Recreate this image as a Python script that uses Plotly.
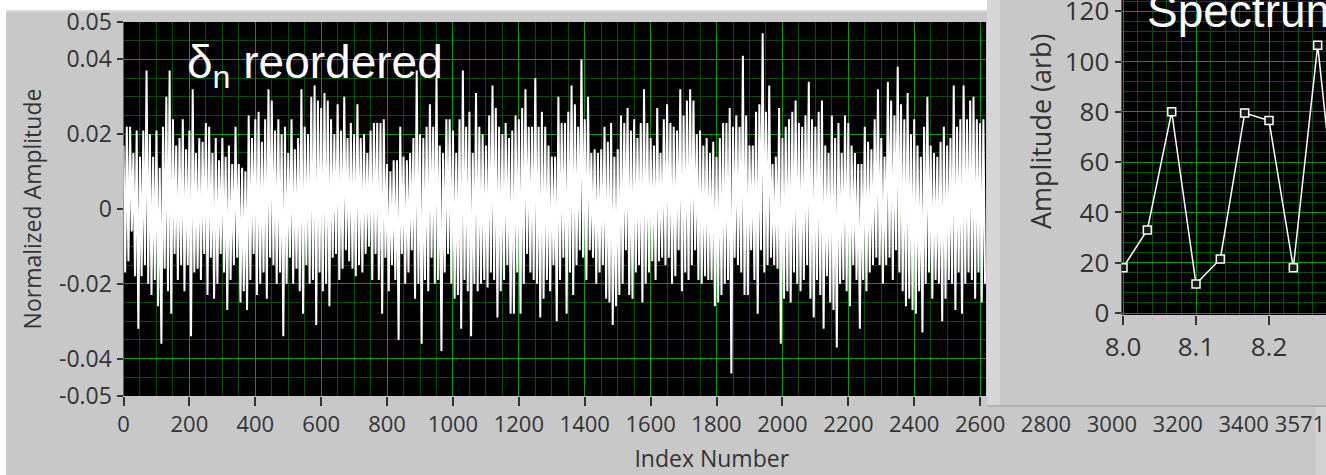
import plotly.graph_objects as go

W, H = 1326, 475

# ---------------- data ----------------
# Main trace: reordered delta_n, read as alternating upper / lower excursions,
# one pair per 10 index units (values in units of 1e-3, normalized amplitude)
index_step = 10
delta_hi_milli = [
    17, 22, 22, 15, 21, 14, 21, 37, 20, 14,
    21, 11, 22, 30, 37, 24, 17, 19, 24, 16,
    21, 32, 15, 19, 18, 23, 22, 15, 19, 13,
    19, 14, 17, 12, 22, 12, 11, 10, 25, 19,
    24, 26, 18, 24, 32, 29, 21, 24, 20, 22,
    15, 24, 16, 19, 32, 22, 20, 30, 33, 29,
    27, 31, 29, 24,
    20, 28, 21, 30, 19, 23, 20, 28, 19, 20,
    15, 21, 23, 23, 23, 24, 12, 10, 13, 13,
    22, 14, 13, 15, 19, 37, 20, 19, 22, 28,
    22, 35, 17, 15, 24, 24, 21, 15, 24, 37,
    22, 26, 15, 31, 22, 20, 17, 25, 33, 27,
    22, 20, 23, 19, 21, 25, 24, 27, 32, 22,
    22, 35, 22, 26, 22,
    17, 14, 14, 30, 23, 23, 26, 33, 28, 22,
    40, 24, 30, 15, 16, 15, 16, 22, 18, 23,
    14, 16, 25, 23, 27, 21, 24, 19, 23, 32,
    23, 19, 17, 27, 15, 24, 28, 23, 22, 21,
    32, 25, 29, 32, 29, 20, 21, 17, 19, 15,
    18, 14, 19, 23, 23, 27, 22, 25, 22, 41,
    25, 17, 17, 26, 28, 47, 26,
    33, 12, 14, 27, 19, 22, 24, 26, 29, 23,
    22, 25, 34, 24, 22, 26, 29, 17, 15, 25,
    19, 23, 15, 25, 23, 17, 15, 12, 12, 22,
    18, 16, 24, 32, 19, 14, 34, 29, 25, 38,
    28, 24, 31, 20, 24, 17, 14, 22, 30, 17,
    15, 14, 18, 22, 17, 19, 33, 22, 24, 33,
    24, 29, 30, 24, 23, 24,
]
delta_lo_milli = [
    -17, -14, -6, -18, -32, -18, -15, -20, -23, -19,
    -26, -36, -16, -22, -28, -12, -19, -15, -22, -15,
    -34, -17, -16, -19, -12, -23, -13, -24, -20, -12,
    -17, -27, -19, -15, -13, -25, -22, -27, -19, -12,
    -23, -20, -17, -24, -13, -15, -20, -17, -34, -20,
    -13, -20, -16, -22, -28, -15, -20, -19, -31, -17,
    -22, -20, -26, -13,
    -12, -19, -16, -11, -14, -16, -18, -15, -17, -12,
    -10, -19, -12, -19, -28, -13, -22, -15, -19, -35,
    -12, -20, -17, -11, -24, -20, -36, -19, -22, -13,
    -20, -19, -38, -17, -12, -20, -24, -23, -32, -19,
    -22, -34, -20, -22, -20, -19, -21, -17, -19, -29,
    -22, -19, -15, -28, -28, -17, -28, -20, -12, -17,
    -19, -20, -29, -24, -19,
    -22, -15, -30, -19, -13, -28, -17, -23, -15, -11,
    -13, -19, -11, -13, -20, -17, -15, -24, -25, -31,
    -26, -23, -20, -11, -23, -24, -17, -15, -25, -20,
    -17, -14, -19, -14, -13, -15, -13, -20, -18, -11,
    -22, -17, -19, -15, -11, -19, -20, -18, -19, -19,
    -26, -25, -23, -20, -19, -44, -13, -15, -17, -23,
    -23, -11, -19, -28, -11, -17, -15,
    -13, -15, -16, -36, -24, -22, -25, -17, -20, -22,
    -19, -15, -24, -29, -19, -23, -32, -18, -25, -27,
    -37, -20, -19, -22, -26, -15, -19, -32, -19, -22,
    -17, -15, -13, -15, -20, -15, -13, -19, -11, -17,
    -22, -26, -24, -27, -28, -22, -33, -20, -17, -24,
    -19, -20, -30, -24, -19, -20, -27, -17, -28, -20,
    -17, -19, -24, -17, -25, -20,
]

# Inset: spectrum
spec_freq = [8.0, 8.0333, 8.0667, 8.1, 8.1333, 8.1667, 8.2, 8.2333, 8.2667, 8.3]
spec_amp = [18, 33, 80, 11.5, 21.5, 79.5, 76.5, 18, 106.5, 15]

# Tick labels
main_xticks = [0, 200, 400, 600, 800, 1000, 1200, 1400, 1600, 1800, 2000, 2200, 2400, 2600]
ext_xticks = [2800, 3000, 3200, 3400, 3571]
n_points = 3571
main_yticks = [-0.05, -0.04, -0.02, 0, 0.02, 0.04, 0.05]
main_yticktext = ["-0.05", "-0.04", "-0.02", "0", "0.02", "0.04", "0.05"]
spec_xticks = [8.0, 8.1, 8.2]
spec_xticktext = ["8.0", "8.1", "8.2"]
spec_yticks = [0, 20, 40, 60, 80, 100, 120]

# ---------------- helpers (pixel -> paper) ----------------
def px(x):
    return x / W

def py(y):
    return 1 - y / H

# main geometry
MX0, MX1, AXEND = 123.5, 986.0, 1300.0
MY0, MY1 = 22.0, 396.0
scale = (AXEND - MX0) / n_points
main_xmax = (MX1 - MX0) / scale

# inset geometry
IX0 = 1121.5
IY1 = 315.0
ix_scale = 730.0            # px per unit
iy_scale = (313.0 - 11.2) / 120.0

TXT = "#333333"
MAJOR = "#179217"
MINOR = "#0b4c0b"
TICKFONT = dict(family="Open Sans", size=22, color=TXT)
INSET_TICKFONT = dict(family="Open Sans", size=26, color=TXT)
COMMON = dict(automargin=False, tickangle=0, ticklabeloverflow="allow", showline=False)

# build zig-zag trace
xs, ys = [], []
for i, (h, l) in enumerate(zip(delta_hi_milli, delta_lo_milli)):
    xs += [i * index_step, i * index_step + index_step / 2]
    ys += [h * 1e-3, l * 1e-3]

fig = go.Figure()
fig.add_trace(go.Scatter(x=xs, y=ys, mode="lines", line=dict(color="white", width=2),
                         xaxis="x", yaxis="y", showlegend=False, hoverinfo="skip"))
fig.add_trace(go.Scatter(x=spec_freq, y=spec_amp, mode="lines+markers",
                         line=dict(color="white", width=1.5),
                         marker=dict(symbol="square", size=8, color="#1a1a1a",
                                     line=dict(color="white", width=1.5)),
                         xaxis="x2", yaxis="y2", showlegend=False, hoverinfo="skip"))
# carrier for the full-length index axis
fig.add_trace(go.Scatter(x=[], y=[], xaxis="x3", yaxis="y3", showlegend=False, hoverinfo="skip"))

fig.update_layout(
    template="none",
    width=W, height=H, margin=dict(l=0, r=0, t=0, b=0, pad=0, autoexpand=False),
    paper_bgcolor="#c8c8c8", plot_bgcolor="rgba(0,0,0,0)",
    showlegend=False,
    xaxis=dict(domain=[px(MX0), px(MX1)], range=[0, main_xmax], anchor="y",
               tickmode="array", tickvals=main_xticks, ticks="outside", ticklen=9,
               tickwidth=1.5, tickcolor=TXT, tickfont=TICKFONT,
               showgrid=True, gridcolor=MAJOR, gridwidth=1, zeroline=False,
               minor=dict(tickmode="linear", tick0=0, dtick=50, showgrid=True,
                          gridcolor=MINOR, gridwidth=1, ticks=""), **COMMON),
    yaxis=dict(domain=[py(MY1), py(MY0)], range=[-0.05, 0.05], anchor="x",
               tickmode="array", tickvals=main_yticks, ticktext=main_yticktext,
               ticks="outside", ticklen=6, tickwidth=1.5, tickcolor=TXT,
               tickfont=dict(family="Open Sans", size=23, color=TXT),
               showgrid=True, gridcolor=MAJOR, gridwidth=1, zeroline=True,
               zerolinecolor=MAJOR, zerolinewidth=1,
               title=dict(text="Normalized Amplitude", font=dict(family="Open Sans", size=23, color=TXT),
                          standoff=10),
               minor=dict(tickmode="linear", tick0=0, dtick=0.005, showgrid=True,
                          gridcolor=MINOR, gridwidth=1, ticks=""), **COMMON),
    xaxis3=dict(domain=[px(MX0), px(AXEND)], range=[0, n_points], anchor="free",
                position=py(MY1),
                tickmode="array", tickvals=ext_xticks, ticks="outside", ticklen=9,
                tickwidth=1.5, tickcolor="rgba(0,0,0,0)", tickfont=TICKFONT,
                showgrid=False, zeroline=False,
                title=dict(text="Index Number", font=dict(family="Open Sans", size=23, color=TXT),
                           standoff=13), **COMMON),
    yaxis3=dict(domain=[py(MY1), py(MY0)], range=[0, 1], anchor="x3", visible=False,
                showgrid=False, zeroline=False, automargin=False),
    xaxis2=dict(domain=[px(IX0), 1.0],
                range=[8.0 - (1123 - IX0) / ix_scale, 8.0 + (W - 1123) / ix_scale],
                anchor="y2", tickmode="array", tickvals=spec_xticks, ticktext=spec_xticktext,
                ticks="outside", ticklen=9, tickwidth=1.5, tickcolor=TXT, tickfont=INSET_TICKFONT,
                showgrid=True, gridcolor=MAJOR, gridwidth=1, zeroline=False,
                minor=dict(tickmode="linear", tick0=8.0, dtick=0.02, showgrid=True,
                           gridcolor=MINOR, gridwidth=1, ticks=""), **COMMON),
    yaxis2=dict(domain=[py(IY1), 1.0],
                range=[-(IY1 - 313.0) / iy_scale, 313.0 / iy_scale],
                anchor="x2", tickmode="array", tickvals=spec_yticks,
                ticks="outside", ticklen=6, tickwidth=1.5, tickcolor=TXT, tickfont=INSET_TICKFONT,
                showgrid=True, gridcolor=MAJOR, gridwidth=1, zeroline=False,
                minor=dict(tickmode="linear", tick0=0, dtick=4, showgrid=True,
                           gridcolor=MINOR, gridwidth=1, ticks=""), **COMMON),
)

shapes = [
    # white border of the screenshot
    dict(type="rect", xref="paper", yref="paper", x0=0, x1=px(6), y0=0, y1=1,
         fillcolor="white", line=dict(width=0), layer="below"),
    dict(type="rect", xref="paper", yref="paper", x0=0, x1=px(987), y0=py(10), y1=1,
         fillcolor="white", line=dict(width=0), layer="below"),
    dict(type="rect", xref="paper", yref="paper", x0=px(6), x1=px(987), y0=py(12), y1=py(10),
         fillcolor="#dadada", line=dict(width=0), layer="below"),
    # inset panel bevel and bottom edge
    dict(type="rect", xref="paper", yref="paper", x0=px(987), x1=px(1000), y0=py(406), y1=1,
         fillcolor="#d6d6d6", line=dict(width=0), layer="below"),
    dict(type="line", xref="paper", yref="paper", x0=px(987), x1=1, y0=py(406), y1=py(406),
         line=dict(color="#a9a9a9", width=1.5), layer="below"),
    # right border of the lower panel
    dict(type="rect", xref="paper", yref="paper", x0=px(1315), x1=1, y0=0, y1=py(407),
         fillcolor="#d2d2d2", line=dict(width=0), layer="below"),
    # black plot areas
    dict(type="rect", xref="x domain", yref="y domain", x0=0, x1=1, y0=0, y1=1,
         fillcolor="black", line=dict(width=0), layer="below"),
    dict(type="rect", xref="x2 domain", yref="y2 domain", x0=0, x1=1, y0=0, y1=1,
         fillcolor="black", line=dict(width=0), layer="below"),
]
fig.update_layout(shapes=shapes)

fig.add_annotation(text="δ<sub>n</sub> reordered", xref="paper", yref="paper",
                   x=px(185), y=py(33.5), xanchor="left", yanchor="top", showarrow=False,
                   font=dict(family="Liberation Sans", size=46, color="white"))
fig.add_annotation(text="Spectrum", xref="paper", yref="paper",
                   x=px(1145), y=py(-16.5), xanchor="left", yanchor="top", showarrow=False,
                   font=dict(family="Liberation Sans", size=46, color="white"))
fig.add_annotation(text="Amplitude (arb)", xref="paper", yref="paper",
                   x=px(1040), y=py(131), xanchor="center", yanchor="middle", showarrow=False,
                   textangle=-90, font=dict(family="Open Sans", size=27, color=TXT))

fig.write_html("out.html")
